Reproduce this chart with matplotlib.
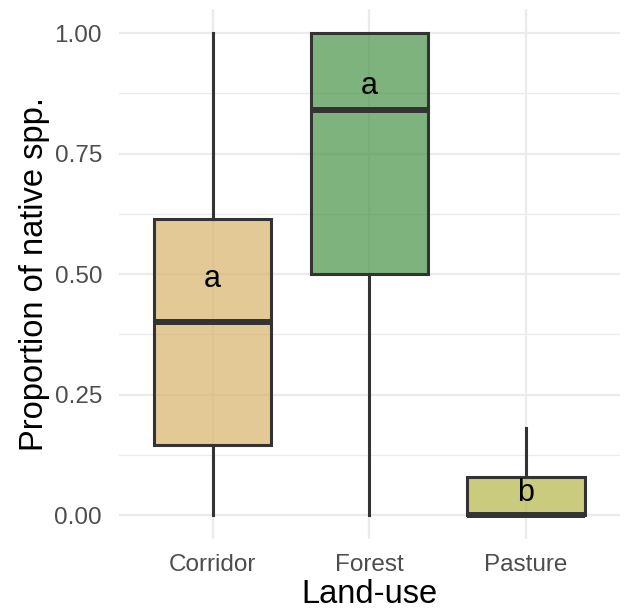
import matplotlib.pyplot as plt
import matplotlib.colors as mc
import numpy as np

plt.rcParams.update({
    "font.family": ["Liberation Sans", "DejaVu Sans"],
})

# box summaries per land-use class
land_use = ["Corridor", "Forest", "Pasture"]
whisker_low = [0.0, 0.0, 0.0]
q1 = [0.145, 0.50, 0.0]
median = [0.40, 0.84, 0.0]
q3 = [0.615, 1.00, 0.08]
whisker_high = [1.00, 1.00, 0.18]

# compact letter display
letters = ["a", "a", "b"]
letter_y = [0.49, 0.89, 0.045]

fills = ["#D8B368", "#479347", "#B6B647"]
edge = "#333333"

fig = plt.figure(figsize=(6.25, 6.12), dpi=100)
ax = fig.add_axes([0.19, 0.119, 0.802, 0.866])

stats = []
for i, name in enumerate(land_use):
    stats.append({
        "label": name,
        "whislo": whisker_low[i],
        "q1": q1[i],
        "med": median[i],
        "q3": q3[i],
        "whishi": whisker_high[i],
        "fliers": [],
    })

pos = np.arange(1, len(land_use) + 1)
bp = ax.bxp(stats, positions=pos, widths=0.75, patch_artist=True,
            showcaps=False, showfliers=False,
            boxprops=dict(edgecolor=edge, linewidth=2.2),
            whiskerprops=dict(color=edge, linewidth=2.2),
            medianprops=dict(color=edge, linewidth=4.3, solid_capstyle="butt"),
            zorder=3)
for patch, c in zip(bp["boxes"], fills):
    patch.set_facecolor((*mc.to_rgb(c), 0.7))

for x, lab, y in zip(pos, letters, letter_y):
    ax.text(x, y, lab, ha="center", va="center", fontsize=22, color="black", zorder=5)

# ggplot-style minimal theme
ax.set_xlim(0.4, 3.6)
ax.set_ylim(-0.05, 1.05)
ax.set_yticks([0, 0.25, 0.5, 0.75, 1.0])
ax.set_yticklabels(["0.00", "0.25", "0.50", "0.75", "1.00"])
ax.set_yticks([0.125, 0.375, 0.625, 0.875], minor=True)
ax.set_xticks(pos)
ax.set_xticklabels(land_use)
ax.grid(True, which="major", color="#EBEBEB", linewidth=1.6, zorder=0)
ax.grid(True, which="minor", axis="y", color="#EBEBEB", linewidth=0.9, zorder=0)
ax.set_axisbelow(True)
for s in ax.spines.values():
    s.set_visible(False)
ax.tick_params(which="both", length=0)
ax.tick_params(axis="both", labelsize=17.5, labelcolor="#4D4D4D")
ax.tick_params(axis="x", pad=11)
ax.tick_params(axis="y", pad=12)

ax.set_xlabel("Land-use", fontsize=23.5, labelpad=2)
ax.set_ylabel("Proportion of native spp.", fontsize=23.5, labelpad=3)

fig.savefig("out.png", dpi=100)
